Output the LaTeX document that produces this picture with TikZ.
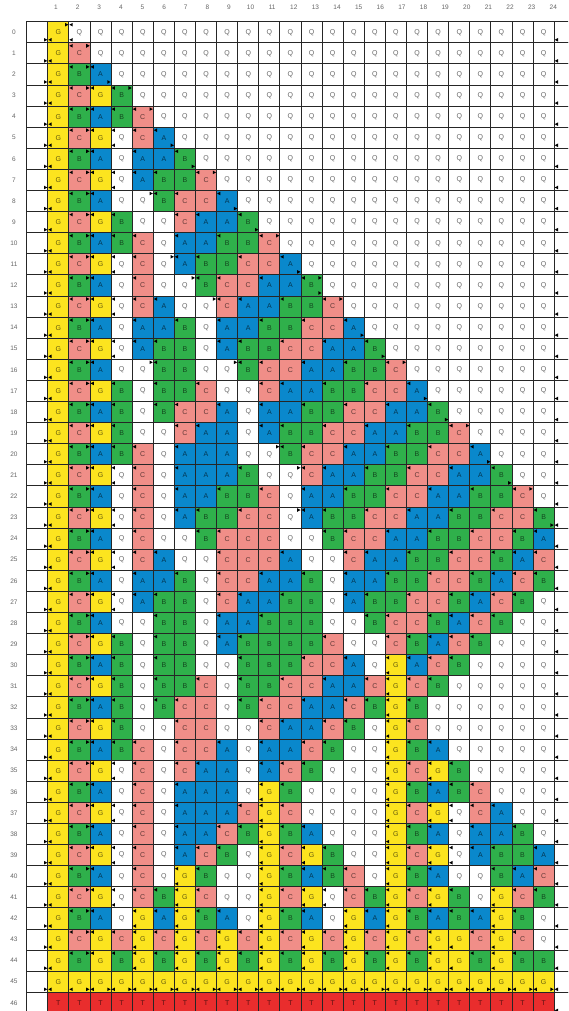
\documentclass[tikz,border=0pt]{standalone}
\usepackage{fontspec}
\setmainfont{Liberation Sans}
\definecolor{fG}{HTML}{FCE41F}
\definecolor{fB}{HTML}{2FB04B}
\definecolor{fA}{HTML}{0A88CC}
\definecolor{fC}{HTML}{F08E88}
\definecolor{fQ}{HTML}{FFFFFF}
\definecolor{fT}{HTML}{E92D2D}
\tikzset{
  cellbox/.style={draw=black!85, line width=0.9pt},
  lett/.style={font=\fontsize{7}{8}\selectfont, text=black, text opacity=0.6, inner sep=0pt},
  mk/.style={fill=black},
  lab/.style={font=\fontsize{6.5}{7}\selectfont, text=black!60, inner sep=0pt}
}
\def\letQ{Q}\def\letG{G}
\def\tolist#1{\def\thelist{}\tolistaux#1\relax}
\def\tolistaux#1{\ifx#1\relax\else\ifx\thelist\empty\edef\thelist{#1}\else\edef\thelist{\thelist,#1}\fi\expandafter\tolistaux\fi}
\newcommand\mkTL{\fill[mk] (\X+0.5,\Y+3) -- (\X+3.8,\Y+1.2) -- (\X+3.8,\Y+4.8) -- cycle;}
\newcommand\mkTR{\fill[mk] (\X+20.6,\Y+3) -- (\X+17.3,\Y+1.2) -- (\X+17.3,\Y+4.8) -- cycle;}
\newcommand\mkBL{\fill[mk] (\X+0.5,\Y+18.1) -- (\X+3.8,\Y+16.3) -- (\X+3.8,\Y+19.9) -- cycle;}
\newcommand\mkBR{\fill[mk] (\X+20.6,\Y+18.1) -- (\X+17.3,\Y+16.3) -- (\X+17.3,\Y+19.9) -- cycle;}
\newcommand\gridrow[3]{%
  \pgfmathsetmacro\Y{21.7+21.1*#1}%
  \gdef\prev{X}%
  \tolist{#2#3}%
  \draw[cellbox,fill=white] (26.7,\Y) rectangle ++(21.1,21.1);
  \draw[cellbox,fill=white] (554.2,\Y) rectangle ++(21.1,21.1);
  \edef\X{554.2}\mkBL
  \ifnum#1<46 \edef\X{26.7}\mkBR\fi
  \foreach \L [count=\c] in \thelist {%
    \edef\cur{\L}%
    \edef\fc{f\cur}%
    \pgfmathsetmacro\X{26.7+21.1*\c}%
    \draw[cellbox,fill=\fc] (\X,\Y) rectangle ++(21.1,21.1);
    \node[lett] (n-#1-\c) at (\X+10.55,\Y+10.55) {\cur};
    \ifnum#1<46
      \ifnum\c=1 \mkBL\ifnum#1=0 \mkTR\fi
      \else
        \ifnum#1=45 \mkBL\mkBR
        \else
          \ifx\cur\letQ
            \ifx\prev\letG \mkTL\mkBL\fi
          \else
            \ifx\cur\prev\else\mkTL\fi
            \ifnum\c=2 \mkTR\fi
            \ifx\cur\letG \ifnum\c>3 \mkBL\fi\fi
          \fi
        \fi
      \fi
    \fi
    \xdef\prev{\cur}%
  }%
}
\begin{document}
\begin{tikzpicture}[x=1pt,y=-1pt]
\useasboundingbox (0,0) rectangle (568,1011);
\clip (0,0) rectangle (568,1011);
\fill[white] (0,0) rectangle (568,1011);
\foreach \i in {1,...,24} \node[lab] (ch\i) at ({56+21.62*(\i-1)},7) {\i};
\foreach \r in {0,...,46} \node[lab] (rh\r) at (14,{32.25+21.1*\r}) {\r};
\gridrow{0}{GQQQQQQQQQQQ}{QQQQQQQQQQQQ}
\gridrow{1}{GCQQQQQQQQQQ}{QQQQQQQQQQQQ}
\gridrow{2}{GBAQQQQQQQQQ}{QQQQQQQQQQQQ}
\gridrow{3}{GCGBQQQQQQQQ}{QQQQQQQQQQQQ}
\gridrow{4}{GBABCQQQQQQQ}{QQQQQQQQQQQQ}
\gridrow{5}{GCGQCAQQQQQQ}{QQQQQQQQQQQQ}
\gridrow{6}{GBAQAABQQQQQ}{QQQQQQQQQQQQ}
\gridrow{7}{GCGQABBCQQQQ}{QQQQQQQQQQQQ}
\gridrow{8}{GBAQQBCCAQQQ}{QQQQQQQQQQQQ}
\gridrow{9}{GCGBQQCAABQQ}{QQQQQQQQQQQQ}
\gridrow{10}{GBABCQAABBCQ}{QQQQQQQQQQQQ}
\gridrow{11}{GCGQCQABBCCA}{QQQQQQQQQQQQ}
\gridrow{12}{GBAQCQQBCCAA}{BQQQQQQQQQQQ}
\gridrow{13}{GCGQCAQQCAAB}{BCQQQQQQQQQQ}
\gridrow{14}{GBAQAABQAABB}{CCAQQQQQQQQQ}
\gridrow{15}{GCGQABBQABBC}{CAABQQQQQQQQ}
\gridrow{16}{GBAQQBBQQBCC}{AABBCQQQQQQQ}
\gridrow{17}{GCGBQBBCQQCA}{ABBCCAQQQQQQ}
\gridrow{18}{GBABQBCCAQAA}{BBCCAABQQQQQ}
\gridrow{19}{GCGBQQCAAQAB}{BCCAABBCQQQQ}
\gridrow{20}{GBABCQAAAQQB}{CCAABBCCAQQQ}
\gridrow{21}{GCGQCQAAABQQ}{CAABBCCAABQQ}
\gridrow{22}{GBAQCQAABBCQ}{AABBCCAABBCQ}
\gridrow{23}{GCGQCQABBCCQ}{ABBCCAABBCCB}
\gridrow{24}{GBAQCQQBCCCQ}{QBCCAABBCCBA}
\gridrow{25}{GCGQCAQQCCCA}{QQCAABBCCBAC}
\gridrow{26}{GBAQAABQCCAA}{BQAABBCCBACB}
\gridrow{27}{GCGQABBQCAAB}{BQABBCCBACBQ}
\gridrow{28}{GBAQQBBQAABB}{BQQBCCBACBQQ}
\gridrow{29}{GCGBQBBQABBB}{BCQQCBACBQQQ}
\gridrow{30}{GBABQBBQQBBB}{CCAQGACBQQQQ}
\gridrow{31}{GCGBQBBCQBBC}{CAACGCBQQQQQ}
\gridrow{32}{GBABQBCCQBCC}{AACBGBQQQQQQ}
\gridrow{33}{GCGBQQCCQQCA}{ACBQGCQQQQQQ}
\gridrow{34}{GBABCQCCAQAA}{CBQQGBAQQQQQ}
\gridrow{35}{GCGQCQCAAQAC}{BQQQGCGBQQQQ}
\gridrow{36}{GBAQCQAAAQGB}{QQQQGBABCQQQ}
\gridrow{37}{GCGQCQAAACGC}{QQQQGCGQCAQQ}
\gridrow{38}{GBAQCQAACBGB}{AQQQGBAQAABQ}
\gridrow{39}{GCGQCQACBQGC}{GBQQGCGQABBA}
\gridrow{40}{GBAQCQGBQQGB}{ABCQGBAQQBAC}
\gridrow{41}{GCGQCBGCQQGC}{GQCBGCGBQGCB}
\gridrow{42}{GBAQGAGBAQGB}{AQGAGBABAGBQ}
\gridrow{43}{GCGCGCGCGCGC}{GCGCGCGGCGCQ}
\gridrow{44}{GBGBGBGBGBGB}{GBGBGBGGBGBB}
\gridrow{45}{GGGGGGGGGGGG}{GGGGGGGGGGGG}
\gridrow{46}{TTTTTTTTTTTT}{TTTTTTTTTTTT}
\foreach \r/\c/\t in {1/2/TR,2/3/BR,3/4/TR,4/5/TR,5/6/BR,6/7/BR,7/8/TR,8/9/BR,9/10/BR,10/11/TR,11/12/BR,12/13/BR,12/13/TR,13/14/TR,14/15/BR,15/16/BR,16/17/TR,17/18/BR,18/19/BR,19/20/TR,20/21/BR,21/22/BR,22/23/TR,23/24/BR,8/5/TR,11/6/TR,12/7/TR,13/8/TR,16/5/TR,16/9/TR,20/11/TR,21/12/TR,23/12/TR}{%
  \pgfmathsetmacro\X{26.7+21.1*\c}%
  \pgfmathsetmacro\Y{21.7+21.1*\r}%
  \csname mk\t\endcsname
}
\end{tikzpicture}
\end{document}
